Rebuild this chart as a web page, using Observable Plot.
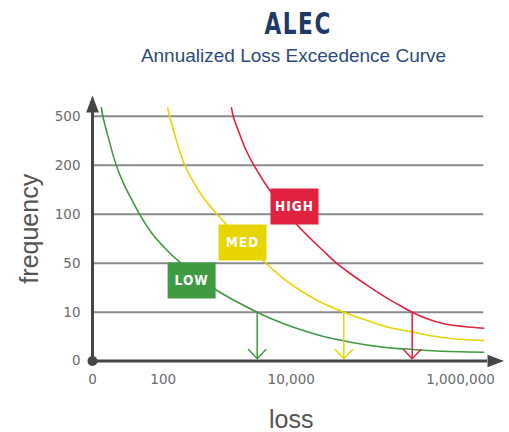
<!DOCTYPE html>
<html><head><meta charset="utf-8">
<script src="https://cdn.jsdelivr.net/npm/d3@7"></script>
<script src="https://cdn.jsdelivr.net/npm/@observablehq/plot@0.6"></script>
<style>
html,body{margin:0;padding:0;background:#fff;}
#wrap{position:relative;width:509px;height:432px;overflow:hidden;}
#title{position:absolute;left:0;top:9px;width:509px;box-sizing:border-box;padding-left:88px;text-align:center;font:bold 30px/30px "DejaVu Sans Condensed","DejaVu Sans",sans-serif;color:#1f3868;}
#title span{display:inline-block;letter-spacing:2px;transform:scaleX(0.8);transform-origin:50% 50%;}
#subtitle{position:absolute;left:0;top:46px;width:509px;box-sizing:border-box;padding-left:78px;text-align:center;font:19px/19px "Liberation Sans",sans-serif;color:#2c4a7c;}
g[font-weight="bold"] text{letter-spacing:1px;}
</style></head><body>
<div id="wrap"><div id="chart"></div><div id="title"><span>ALEC</span></div><div id="subtitle">Annualized Loss Exceedence Curve</div></div>
<script>
// ---- data ----
const yTicks = [0, 10, 50, 100, 200, 500];
const xTicks = [0, 100, 10000, 1000000];
const riskNames = ["LOW", "MED", "HIGH"];
const riskColors = ["#3f9a41", "#e8d400", "#e0223f"];

const lowLoss = [0.8, 0.96, 1.63, 3.7, 6.7, 12.35, 20.5, 48.3, 115.6, 182, 660, 2950, 7670, 20280, 50180, 124150, 273200, 530600, 1884700];
const lowFreq = [551, 500, 392, 200, 162, 128, 100, 80, 63, 51, 28.5, 10, 7.62, 5.37, 3.85, 2.83, 2.36, 2.05, 1.8];
const medLoss = [118, 125.6, 150.6, 180.3, 218.3, 309.7, 460, 701, 979, 3530, 7670, 12880, 20280, 41820, 79040, 148970, 280750, 442190, 761850, 1884700];
const medFreq = [551, 500, 392, 290, 200, 162, 128, 100, 89.5, 53.5, 37.3, 27.7, 19.6, 10, 8.3, 6.8, 5.9, 5.18, 4.61, 4.2];
const highLoss = [1172, 1246, 1562, 1987, 2611, 4426, 11550, 24080, 34290, 50180, 79040, 124150, 195540, 268790, 404210, 634950, 1093950, 1884700];
const highFreq = [551, 500, 392, 290, 200, 152.4, 89.8, 62.45, 50, 41.4, 31.96, 23.14, 15.22, 10, 8.65, 7.62, 7.07, 6.72];

const labelLoss = [279, 1740, 10940];
const labelFreq = [35.9, 71.1, 115.7];
const lossAt10 = [2950, 41820, 268790];
const arrowFreq = 10;

// ---- tables ----
const seriesLoss = [lowLoss, medLoss, highLoss];
const seriesFreq = [lowFreq, medFreq, highFreq];
const lines = riskNames.flatMap((r, k) => seriesLoss[k].map((l, i) => ({risk: r, loss: l, freq: seriesFreq[k][i]})));
const labels = riskNames.map((r, i) => ({risk: r, loss: labelLoss[i], freq: labelFreq[i]}));
const arrows = riskNames.map((r, i) => ({risk: r, loss: lossAt10[i], freq: arrowFreq}));
const xEnd = d3.max(lowLoss);

const boxSymbol = {draw(ctx) { ctx.rect(-24, -18, 48, 36); }};
const upHead = {draw(ctx) { ctx.moveTo(0, -17); ctx.lineTo(6.4, 0); ctx.lineTo(-6.4, 0); ctx.closePath(); }};
const rightHead = {draw(ctx) { ctx.moveTo(16.5, 0); ctx.lineTo(0, -6.3); ctx.lineTo(0, 6.3); ctx.closePath(); }};
const axisColor = "#464646";

const chart = Plot.plot({
  width: 509, height: 432,
  marginLeft: 92, marginRight: 22, marginTop: 112, marginBottom: 71.5,
  style: {fontFamily: "DejaVu Sans, sans-serif", fontSize: "13.5px", background: "transparent", overflow: "visible"},
  x: {type: "symlog", domain: xTicks, range: [92, 162.7, 290.7, 460]},
  y: {type: "linear", domain: yTicks, range: [360.5, 311.7, 262.7, 213.7, 164.7, 115.7]},
  color: {domain: riskNames, range: riskColors},
  marks: [
    Plot.ruleY(yTicks.filter(d => d > 0), {x1: 0, x2: xEnd, stroke: "#8a8a8a", strokeWidth: 2}),
    Plot.line(lines, {x: "loss", y: "freq", z: "risk", stroke: "risk", strokeWidth: 1.6, curve: "catmull-rom"}),
    Plot.arrow(arrows, {x1: "loss", x2: "loss", y1: "freq", y2: () => 0, stroke: "risk", strokeWidth: 1.5, headAngle: 86, headLength: 12.7, insetEnd: 2.2}),
    Plot.ruleX([0], {stroke: axisColor, strokeWidth: 3}),
    Plot.ruleY([0], {stroke: axisColor, strokeWidth: 3}),
    Plot.dot([0], {x: [0], frameAnchor: "top", symbol: upHead, r: 5, fill: axisColor, stroke: "none"}),
    Plot.dot([0], {y: [0], frameAnchor: "right", symbol: rightHead, r: 5, fill: axisColor, stroke: "none"}),
    Plot.dot([0], {x: [0], y: [0], r: 5, fill: axisColor, stroke: "none"}),
    Plot.dot(labels, {x: "loss", y: "freq", symbol: boxSymbol, r: 5, fill: "risk", stroke: "none"}),
    Plot.text(labels, {x: "loss", y: "freq", text: "risk", fill: "white", fontWeight: "bold", fontSize: 13.5, fontFamily: "DejaVu Sans Condensed, sans-serif"}),
    Plot.axisY({ticks: yTicks, tickSize: 0, tickPadding: 12, color: "#6b6b6b", fontSize: 13.5, label: null}),
    Plot.axisX({ticks: xTicks, tickFormat: d3.format(","), tickSize: 0, tickPadding: 13.5, color: "#6b6b6b", fontSize: 13.5, label: null}),
    Plot.text(["frequency"], {frameAnchor: "left", rotate: -90, dx: -63, dy: -8, textAnchor: "middle", fontSize: 25, fill: "#555", fontFamily: "Liberation Sans, sans-serif"}),
    Plot.text(["loss"], {frameAnchor: "bottom", lineAnchor: "bottom", dx: 1.3, dy: 67, textAnchor: "middle", fontSize: 25, fill: "#555", fontFamily: "Liberation Sans, sans-serif"})
  ]
});
document.getElementById("chart").appendChild(chart);
</script>
</body></html>
